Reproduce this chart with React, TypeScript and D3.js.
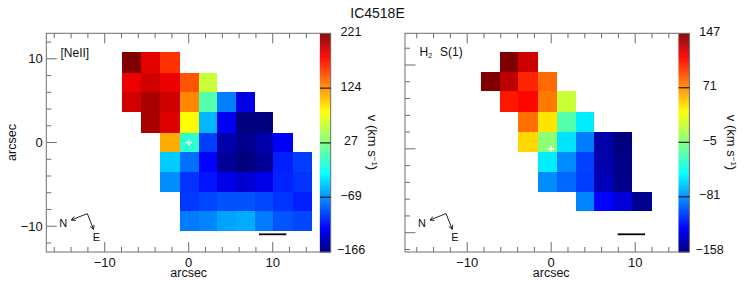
import React from "react";
import * as d3 from "d3";

// Bin edges of the spectral maps, in arcsec
const neiiXEdges = [-7.9, -5.68, -3.42, -1.04, 1.19, 3.37, 5.63, 7.86, 10.04, 12.42, 14.68];
const neiiYEdges = [10.78, 8.35, 6.09, 3.62, 1.19, -1.12, -3.54, -5.97, -8.2, -10.62];
const h2XEdges = [-8.37, -6.1, -3.9, -1.55, 0.67, 2.94, 5.1, 7.4, 9.6, 12.0];
const h2YEdges = [11.55, 9.13, 6.87, 4.4, 1.99, -0.32, -2.74, -5.15, -7.38];

// First occupied column per row, then velocities (km/s)
const neiiRowStart = [0, 0, 0, 1, 2, 2, 2, 3, 3];
const neiiRows = [
  [221, 187, 159],
  [184, 194, 184, 146, 58],
  [194, 207, 195, 127, 9, -75, -132],
  [207, 190, 82, -54, -127, -166, -166],
  [113, -7, -100, -152, -161, -152, -125],
  [-46, -81, -123, -158, -166, -158, -112, -100],
  [-70, -104, -116, -131, -139, -131, -110, -104],
  [-102, -96, -92, -92, -96, -104, -112],
  [-77, -73, -62, -58, -77, -91, -96],
];
const h2RowStart = [1, 0, 1, 2, 2, 3, 3, 5];
const h2Rows = [
  [147, 126],
  [147, 131, 103, 82],
  [107, 112, 77, 19],
  [80, 45, -20, -54],
  [49, -1, -56, -88, -147, -158],
  [-53, -83, -105, -146, -156],
  [-83, -94, -106, -143, -155],
  [-85, -124, -134, -153],
];

const neiiBarTicks = [-166, -69, 27, 124, 221];
const h2BarTicks = [-158, -81, -5, 71, 147];
const axisTicks = [-10, 0, 10];
const jetStops = [0, 0.11, 0.36, 0.64, 0.89, 1];
const jetColors = ["#000080", "#0000ff", "#00ffff", "#ffff00", "#ff0000", "#800000"];

const FONT = "'Liberation Sans', Arial, sans-serif";
const AXIS = "#6e6e6e";
const TOP = 33.3;
const BOTTOM = 252;
const PANEL_W = 284.4;
const BAR_W = 10.8;

const fmt = (v: number) => (v < 0 ? "\u2212" + Math.abs(v) : String(v));
const jet = d3.scaleLinear<string>().domain(jetStops).range(jetColors).clamp(true);

type PanelProps = {
  left: number;
  xDomain: [number, number];
  yDomain: [number, number];
  xEdges: number[];
  yEdges: number[];
  rowStart: number[];
  rows: number[][];
  barTicks: number[];
  showYLabels: boolean;
  children?: React.ReactNode;
};

function Panel({ left, xDomain, yDomain, xEdges, yEdges, rowStart, rows, barTicks, showYLabels, children }: PanelProps) {
  const right = left + PANEL_W;
  const barLeft = right - BAR_W;
  const x = d3.scaleLinear().domain(xDomain).range([left, right]);
  const y = d3.scaleLinear().domain(yDomain).range([BOTTOM, TOP]);
  const vMin = barTicks[0];
  const vMax = barTicks[barTicks.length - 1];
  const norm = d3.scaleLinear().domain([vMin, vMax]).range([0, 1]);
  const barY = d3.scaleLinear().domain([vMin, vMax]).range([BOTTOM, TOP]);
  const xMinor = d3.range(-16, 17, 2).filter((t) => x(t) > left + 1 && x(t) < barLeft - 1);
  const yMinor = d3.range(-12, 14, 2).filter((t) => y(t) > TOP + 1 && y(t) < BOTTOM - 1);
  const barSteps = d3.range(0, 219);
  const line = { stroke: AXIS, strokeWidth: 1 };

  return (
    <g fontFamily={FONT}>
      {rows.map((row, r) =>
        row.map((v, i) => {
          const c = rowStart[r] + i;
          const x0 = Math.round(x(xEdges[c]));
          const x1 = Math.round(x(xEdges[c + 1]));
          const y0 = Math.round(y(yEdges[r]));
          const y1 = Math.round(y(yEdges[r + 1]));
          return <rect key={r + "-" + c} x={x0} y={y0} width={x1 - x0} height={y1 - y0} fill={jet(norm(v))} />;
        })
      )}
      {barSteps.map((s) => {
        const t = s / barSteps.length;
        return (
          <rect
            key={s}
            x={barLeft}
            y={BOTTOM - (t + 1 / barSteps.length) * (BOTTOM - TOP)}
            width={BAR_W}
            height={(BOTTOM - TOP) / barSteps.length + 0.5}
            fill={jet(t)}
          />
        );
      })}
      <rect x={left} y={TOP} width={PANEL_W} height={BOTTOM - TOP} fill="none" {...line} />
      {xMinor.map((t) => {
        const major = axisTicks.includes(t);
        const len = major ? 10 : 5;
        return (
          <g key={t}>
            <line x1={x(t)} x2={x(t)} y1={BOTTOM} y2={BOTTOM - len} {...line} />
            <line x1={x(t)} x2={x(t)} y1={TOP} y2={TOP + len} {...line} />
          </g>
        );
      })}
      {yMinor.map((t) => {
        const major = axisTicks.includes(t);
        return <line key={t} x1={left} x2={left + (major ? 10.5 : 5)} y1={y(t)} y2={y(t)} {...line} />;
      })}
      {axisTicks.map((t) => (
        <text key={t} x={x(t)} y={BOTTOM + 14.5} fontSize={13} textAnchor="middle" fill="#111">
          {fmt(t)}
        </text>
      ))}
      {showYLabels &&
        axisTicks.map((t) => (
          <text key={t} x={left - 3.5} y={y(t) + 4.5} fontSize={13} textAnchor="end" fill="#111">
            {fmt(t)}
          </text>
        ))}
      <text x={x(0)} y={BOTTOM + 25} fontSize={12.5} textAnchor="middle" fill="#111">
        arcsec
      </text>
      {barTicks.slice(1, -1).map((t) => (
        <line key={t} x1={barLeft} x2={right} y1={barY(t)} y2={barY(t)} stroke="#000" strokeWidth={1} />
      ))}
      {barTicks.map((t, i) => {
        const yPos = barY(t) + (i === 0 ? 2 : i === barTicks.length - 1 ? 3 : 2.5);
        return (
          <text key={t} x={right + 20.3} y={yPos} fontSize={12.5} textAnchor="middle" fill="#111">
            {fmt(t)}
          </text>
        );
      })}
      <text
        transform={`translate(${right + 37.5},142.5) rotate(90)`}
        fontSize={13}
        textAnchor="middle"
        fill="#111"
      >
        v (km s
        <tspan fontSize={8} dy={-4}>
          {"\u22121"}
        </tspan>
        <tspan dy={4}>)</tspan>
      </text>
      <line x1={x(0) - 3} x2={x(0) + 3} y1={y(0)} y2={y(0)} stroke="#fff" strokeWidth={1.6} />
      <line x1={x(0)} x2={x(0)} y1={y(0) - 3} y2={y(0) + 3} stroke="#fff" strokeWidth={1.6} />
      <Compass ox={left + 41} />
      <line x1={right - 71.7} x2={right - 44.3} y1={234.3} y2={234.3} stroke="#000" strokeWidth={1.8} />
      {children}
    </g>
  );
}

function Compass({ ox }: { ox: number }) {
  const vy = 213.6;
  const nTip = [ox - 16, 220];
  const eTip = [ox + 6.2, 229.3];
  const head = (tip: number[], from: number[]) => {
    const a = Math.atan2(from[1] - tip[1], from[0] - tip[0]);
    const p = (d: number) => [tip[0] + 4.5 * Math.cos(a + d), tip[1] + 4.5 * Math.sin(a + d)];
    return `M${p(0.5)}L${tip}L${p(-0.5)}`;
  };
  const v = [ox, vy];
  return (
    <g stroke="#222" fill="none" strokeWidth={1}>
      <path d={`M${nTip}L${v}L${eTip}`} />
      <path d={head(nTip, v)} />
      <path d={head(eTip, v)} />
      <text x={ox - 24} y={226.8} fontSize={11} textAnchor="middle" fill="#111" stroke="none">
        N
      </text>
      <text x={ox + 9} y={241} fontSize={11} textAnchor="middle" fill="#111" stroke="none">
        E
      </text>
    </g>
  );
}

export default function App() {
  return (
    <svg
      width={747}
      height={285}
      viewBox="0 0 747 285"
      style={{ position: "absolute", left: 0, top: 0, display: "block", background: "#fff" }}
    >
      <text x={377.5} y={18} fontSize={14} textAnchor="middle" fontFamily={FONT} fill="#111">
        IC4518E
      </text>
      <text
        transform="translate(16,142.5) rotate(-90)"
        fontSize={12.5}
        textAnchor="middle"
        fontFamily={FONT}
        fill="#111"
      >
        arcsec
      </text>
      <Panel
        left={46.3}
        xDomain={[-16.95, 16.9]}
        yDomain={[-13.08, 13.05]}
        xEdges={neiiXEdges}
        yEdges={neiiYEdges}
        rowStart={neiiRowStart}
        rows={neiiRows}
        barTicks={neiiBarTicks}
        showYLabels
      >
        <text x={60.5} y={56.5} fontSize={12} fill="#111">
          [NeII]
        </text>
      </Panel>
      <Panel
        left={405}
        xDomain={[-17.4, 16.45]}
        yDomain={[-12.3, 13.78]}
        xEdges={h2XEdges}
        yEdges={h2YEdges}
        rowStart={h2RowStart}
        rows={h2Rows}
        barTicks={h2BarTicks}
        showYLabels={false}
      >
        <text x={419.5} y={56} fontSize={12} fill="#111">
          H
          <tspan fontSize={7} dy={2}>
            2
          </tspan>
        </text>
        <text x={440} y={56} fontSize={12} fill="#111">
          S(1)
        </text>
      </Panel>
    </svg>
  );
}
